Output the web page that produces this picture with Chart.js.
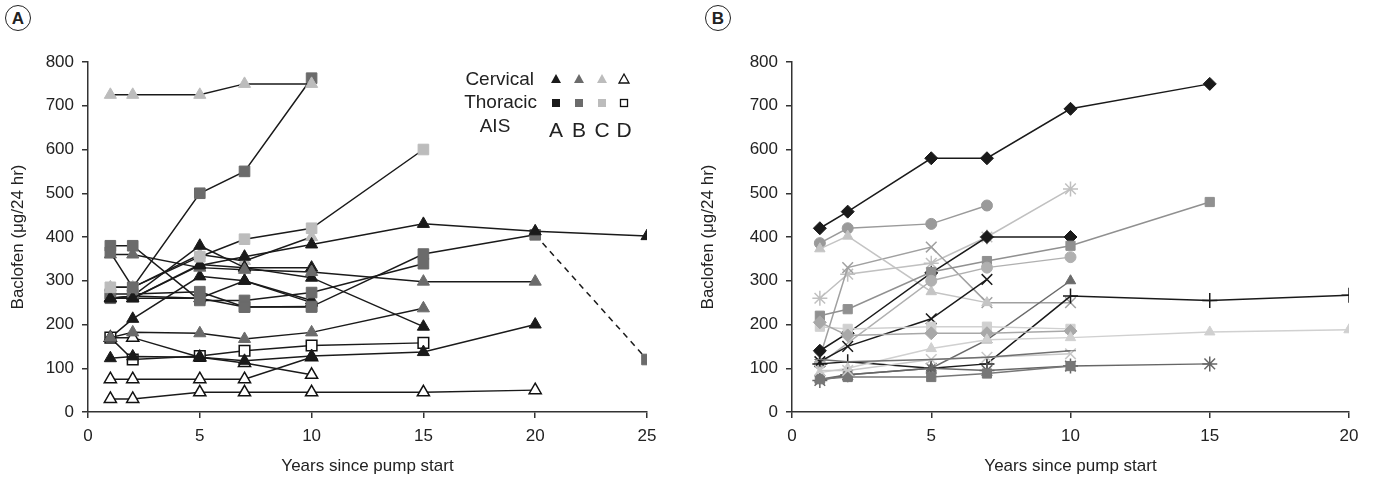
<!DOCTYPE html>
<html>
<head>
<meta charset="utf-8">
<script src="https://cdn.jsdelivr.net/npm/chart.js@4"></script>
<style>
body { margin: 0; background: #fff; width: 1379px; height: 483px; overflow: hidden; position: relative; font-family: "Liberation Sans", Arial, sans-serif; }
canvas { position: absolute; top: 0; }
#chartA { left: 0; }
#chartB { left: 690px; }
.tag { position: absolute; top: 5px; width: 24px; height: 24px; border: 1.5px solid #222; border-radius: 50%; text-align: center; line-height: 25px; font-size: 17px; font-weight: bold; color: #222; }
</style>
</head>
<body>
<div class="tag" style="left:5px">A</div>
<div class="tag" style="left:705px">B</div>
<canvas id="chartA" width="685" height="483"></canvas>
<canvas id="chartB" width="689" height="483"></canvas>
<script>
// Textos
const yTitle = 'Baclofen (μg/24 hr)';
const xTitle = 'Years since pump start';
const legendRows = ['Cervical', 'Thoracic', 'AIS'];
const legendGrades = ['A', 'B', 'C', 'D'];

// Painel A: anos e doses de cada paciente
const a1Years = [1, 2, 5, 7, 10];             const a1Dose = [725, 725, 725, 750, 750];
const a2Years = [1, 2, 5, 7, 10];             const a2Dose = [365, 285, 500, 550, 763];
const a3Years = [1, 2, 5, 7, 10, 15];         const a3Dose = [285, 285, 355, 395, 420, 600];
const a4Years = [1, 2, 5, 7, 10, 15, 20, 25]; const a4Dose = [260, 260, 335, 355, 383, 430, 413, 402];
const a5Years = [1, 2, 5, 7, 10, 15, 20, 25]; const a5Dose = [270, 270, 275, 240, 241, 361, 405, 120];
const a6Years = [1, 2, 5, 7, 10, 15];         const a6Dose = [380, 380, 255, 255, 273, 339];
const a7Years = [1, 2, 5, 7, 10, 15, 20];     const a7Dose = [360, 360, 330, 325, 320, 298, 298];
const a8Years = [1, 2, 5, 7, 10, 15];         const a8Dose = [170, 182, 180, 167, 182, 237];
const a9Years = [1, 2, 5, 7, 10, 15];         const a9Dose = [260, 265, 380, 330, 307, 195];
const a10Years = [1, 2, 5, 7, 10, 15, 20];    const a10Dose = [123, 127, 125, 117, 128, 137, 200];
const a11Years = [1, 2, 5, 7, 10, 15, 20];    const a11Dose = [30, 30, 45, 45, 45, 45, 50];
const a12Years = [1, 2, 5, 7, 10];            const a12Dose = [75, 75, 75, 75, 125];
const a13Years = [1, 2, 5, 7, 10];            const a13Dose = [170, 170, 125, 112, 85];
const a14Years = [1, 2, 5, 7, 10, 15];        const a14Dose = [170, 120, 128, 140, 152, 158];
const a15Years = [1, 2, 5, 7, 10];            const a15Dose = [170, 213, 310, 300, 255];
const a16Years = [1, 2, 5, 7, 10];            const a16Dose = [260, 260, 337, 330, 330];
const a17Years = [1, 2, 5, 7, 10];            const a17Dose = [260, 260, 260, 300, 250];
const a18Years = [1, 2, 5, 7, 10];            const a18Dose = [285, 285, 360, 345, 400];
const a19Years = [1, 2, 5, 7, 10];            const a19Dose = [260, 265, 260, 240, 240];

// Painel B
const b1Years = [1, 2, 5, 7, 10, 15];         const b1Dose = [420, 458, 580, 580, 693, 750];
const b2Years = [1, 2, 5, 7];                 const b2Dose = [386, 420, 430, 472];
const b3Years = [1, 2, 5, 7, 10];             const b3Dose = [260, 315, 340, 400, 510];
const b4Years = [1, 2, 5, 7, 10];             const b4Dose = [125, 330, 377, 250, 250];
const b5Years = [1, 2, 5, 7];                 const b5Dose = [373, 402, 275, 250];
const b6Years = [1, 2, 5, 7, 10];             const b6Dose = [140, 180, 318, 400, 400];
const b7Years = [1, 2, 5, 7, 10, 15];         const b7Dose = [220, 235, 320, 345, 380, 480];
const b8Years = [1, 5, 7, 10];                const b8Dose = [110, 300, 330, 354];
const b9Years = [1, 2, 5, 7];                 const b9Dose = [115, 150, 213, 303];
const b10Years = [1, 2, 5, 7, 10];            const b10Dose = [75, 85, 100, 165, 300];
const b11Years = [1, 2, 5, 7, 10, 15, 20];    const b11Dose = [110, 115, 100, 110, 265, 255, 267];
const b12Years = [1, 2, 5, 7, 10];            const b12Dose = [195, 190, 195, 195, 190];
const b13Years = [1, 2, 5, 7, 10];            const b13Dose = [205, 175, 180, 180, 185];
const b14Years = [1, 2, 5, 7, 10, 15, 20];    const b14Dose = [90, 100, 145, 165, 170, 183, 188];
const b15Years = [1, 2, 5, 7, 10, 15];        const b15Dose = [72, 85, 100, 95, 105, 110];
const b16Years = [1, 2, 5, 7, 10];            const b16Dose = [75, 80, 80, 88, 105];
const b17Years = [1, 2, 5, 7, 10];            const b17Dose = [95, 95, 120, 125, 133];
const b18Years = [1, 2, 5, 7, 10];            const b18Dose = [120, 115, 120, 125, 140];

// Cores
const BLACK = '#1a1a1a', DARK = '#6b6b6b', LIGHT = '#bcbcbc', OPEN = '#ffffff';
const FONT = '"Liberation Sans", Arial, sans-serif';

function pts(xs, ys) {
    return xs.map((x, i) => ({ x: x, y: ys[i] }));
}

// Série do painel A: linha preta, marcador colorido
function serieA(xs, ys, style, fill) {
    const open = fill === OPEN;
    return {
        data: pts(xs, ys),
        borderColor: '#1a1a1a',
        borderWidth: 1.5,
        pointStyle: style,
        pointRadius: style === 'rect' ? 7.5 : 7,
        pointBackgroundColor: fill,
        pointBorderColor: open ? '#111' : fill,
        pointBorderWidth: open ? 1.5 : 1,
        segment: {
            borderDash: ctx => (xs.length === 8 && style === 'rect' && ctx.p0DataIndex === 6) ? [6, 5] : undefined
        }
    };
}

// Série do painel B: linha e marcador na mesma cor
function serieB(xs, ys, style, color) {
    const stroke = ['cross', 'crossRot', 'star'].includes(style);
    let r = 5.5;
    if (stroke) r = 7.5;
    else if (style === 'rectRot' || style === 'rect') r = 6.5;
    else if (style === 'triangle') r = 6;
    return {
        data: pts(xs, ys),
        borderColor: color,
        borderWidth: 1.5,
        pointStyle: style,
        pointRadius: r,
        pointBackgroundColor: color,
        pointBorderColor: color,
        pointBorderWidth: stroke ? 1.5 : 1
    };
}

function makeScales(xMax, leftWidth) {
    const tickFont = { family: FONT, size: 17 };
    return {
        x: {
            type: 'linear', min: 0, max: xMax,
            ticks: { stepSize: 5, color: '#222', font: tickFont, padding: 8 },
            grid: { drawOnChartArea: false, drawTicks: true, tickLength: 6, color: '#333', lineWidth: 1.5 },
            border: { color: '#333', width: 1.5 },
            title: { display: true, text: xTitle, color: '#222', font: tickFont, padding: { top: 0, bottom: 6 } },
            afterFit: s => { s.height = 71; }
        },
        y: {
            min: 0, max: 800,
            ticks: { stepSize: 100, color: '#222', font: tickFont, padding: 8 },
            grid: { drawOnChartArea: false, drawTicks: true, tickLength: 6, color: '#333', lineWidth: 1.5 },
            border: { color: '#333', width: 1.5 },
            title: { display: true, text: yTitle, color: '#222', font: tickFont, padding: { top: 8, bottom: 0 } },
            afterFit: s => { s.width = leftWidth; }
        }
    };
}

// Legenda do painel A desenhada no canvas
const legendPlugin = {
    id: 'aisLegend',
    afterDraw(chart) {
        const c = chart.ctx;
        const xs = [556, 579, 602, 624];
        const fills = [BLACK, DARK, LIGHT, OPEN];
        c.save();
        c.fillStyle = '#222';
        c.font = '19px ' + FONT;
        c.textBaseline = 'middle';
        c.textAlign = 'right';
        c.fillText(legendRows[0], 534, 80);
        c.fillText(legendRows[1], 537, 103);
        c.textAlign = 'center';
        c.fillText(legendRows[2], 495, 127);
        c.font = '21px ' + FONT;
        legendGrades.forEach((g, i) => c.fillText(g, xs[i], 131));
        fills.forEach((f, i) => {
            // triângulo
            c.beginPath();
            c.moveTo(xs[i], 74);
            c.lineTo(xs[i] + 5, 83);
            c.lineTo(xs[i] - 5, 83);
            c.closePath();
            c.fillStyle = f;
            c.fill();
            if (f === OPEN) { c.strokeStyle = '#111'; c.lineWidth = 1.3; c.stroke(); }
            // quadrado
            c.fillStyle = f;
            c.fillRect(xs[i] - 4, 99, 8, 8);
            if (f === OPEN) { c.strokeRect(xs[i] - 3.5, 99.5, 7, 7); }
        });
        c.restore();
    }
};

const datasetsA = [
    serieA(a1Years, a1Dose, 'triangle', LIGHT),
    serieA(a2Years, a2Dose, 'rect', DARK),
    serieA(a3Years, a3Dose, 'rect', LIGHT),
    serieA(a4Years, a4Dose, 'triangle', BLACK),
    serieA(a5Years, a5Dose, 'rect', DARK),
    serieA(a6Years, a6Dose, 'rect', DARK),
    serieA(a7Years, a7Dose, 'triangle', DARK),
    serieA(a8Years, a8Dose, 'triangle', DARK),
    serieA(a9Years, a9Dose, 'triangle', BLACK),
    serieA(a10Years, a10Dose, 'triangle', BLACK),
    serieA(a11Years, a11Dose, 'triangle', OPEN),
    serieA(a12Years, a12Dose, 'triangle', OPEN),
    serieA(a13Years, a13Dose, 'triangle', OPEN),
    serieA(a14Years, a14Dose, 'rect', OPEN),
    serieA(a15Years, a15Dose, 'triangle', BLACK),
    serieA(a16Years, a16Dose, 'triangle', BLACK),
    serieA(a17Years, a17Dose, 'triangle', BLACK),
    serieA(a18Years, a18Dose, 'triangle', LIGHT),
    serieA(a19Years, a19Dose, 'rect', DARK)
];

const datasetsB = [
    serieB(b18Years, b18Dose, 'line', '#707070'),
    serieB(b17Years, b17Dose, 'crossRot', '#c8c8c8'),
    serieB(b16Years, b16Dose, 'rect', '#777777'),
    serieB(b15Years, b15Dose, 'star', '#666666'),
    serieB(b14Years, b14Dose, 'triangle', '#d0d0d0'),
    serieB(b13Years, b13Dose, 'rectRot', '#a8a8a8'),
    serieB(b12Years, b12Dose, 'rect', '#d0d0d0'),
    serieB(b11Years, b11Dose, 'cross', BLACK),
    serieB(b10Years, b10Dose, 'triangle', '#6a6a6a'),
    serieB(b9Years, b9Dose, 'crossRot', BLACK),
    serieB(b8Years, b8Dose, 'circle', '#b0b0b0'),
    serieB(b7Years, b7Dose, 'rect', '#909090'),
    serieB(b6Years, b6Dose, 'rectRot', BLACK),
    serieB(b5Years, b5Dose, 'triangle', '#c4c4c4'),
    serieB(b4Years, b4Dose, 'crossRot', '#a0a0a0'),
    serieB(b3Years, b3Dose, 'star', '#c0c0c0'),
    serieB(b2Years, b2Dose, 'circle', '#9a9a9a'),
    serieB(b1Years, b1Dose, 'rectRot', BLACK)
];

const commonOptions = {
    responsive: false,
    animation: false,
    plugins: { legend: { display: false }, tooltip: { enabled: false } }
};

new Chart(document.getElementById('chartA').getContext('2d'), {
    type: 'line',
    data: { datasets: datasetsA },
    options: Object.assign({}, commonOptions, {
        layout: { padding: { top: 62, right: 38, left: 0, bottom: 0 } },
        scales: makeScales(25, 88)
    }),
    plugins: [legendPlugin]
});

new Chart(document.getElementById('chartB').getContext('2d'), {
    type: 'line',
    data: { datasets: datasetsB },
    options: Object.assign({}, commonOptions, {
        layout: { padding: { top: 62, right: 30, left: 0, bottom: 0 } },
        scales: makeScales(20, 102)
    })
});
</script>
</body>
</html>
